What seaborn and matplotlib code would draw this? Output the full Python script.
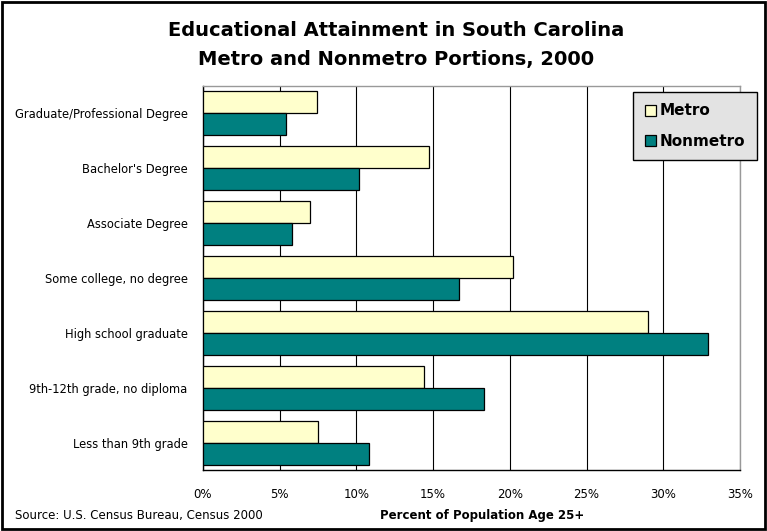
import numpy as np
import pandas as pd
import seaborn as sns
import matplotlib.pyplot as plt
from matplotlib.patches import Rectangle

# data (percent of population age 25+)
categories = ['Graduate/Professional Degree', "Bachelor's Degree", 'Associate Degree',
              'Some college, no degree', 'High school graduate',
              '9th-12th grade, no diploma', 'Less than 9th grade']
metro = [7.4, 14.7, 7.0, 20.2, 29.0, 14.4, 7.5]
nonmetro = [5.4, 10.2, 5.8, 16.7, 32.9, 18.3, 10.8]
series = ['Metro', 'Nonmetro']
colors = ['#FFFFCC', '#008080']
xticks = [0, 5, 10, 15, 20, 25, 30, 35]

df = pd.DataFrame({
    'category': categories * 2,
    'value': metro + nonmetro,
    'series': ['Metro'] * len(categories) + ['Nonmetro'] * len(categories),
})

sns.set_theme(style='white')
plt.rcParams['font.family'] = ['DejaVu Sans']
plt.rcParams.update({'text.color': 'black', 'xtick.color': 'black',
                     'ytick.color': 'black', 'axes.labelcolor': 'black'})

fig = plt.figure(figsize=(7.67, 5.31), dpi=100)
ax = fig.add_axes([203 / 767, 1 - 470 / 531, (740 - 203) / 767, (470 - 86) / 531])

sns.barplot(data=df, y='category', x='value', hue='series', orient='h',
            order=categories, hue_order=series, palette=colors,
            width=0.8, edgecolor='black', linewidth=0.9, saturation=1,
            ax=ax, zorder=3)

ax.set_xlim(0, 35)
ax.set_ylim(len(categories) - 0.5, -0.5)
ax.set_xticks(xticks)
ax.set_xticklabels([f'{t}%' for t in xticks], fontsize=8.5)
ax.xaxis.grid(True, color='black', linewidth=0.8, zorder=0)
ax.yaxis.grid(False)

# y ticks: labels at centers, tick marks between categories
ax.set_yticks(range(len(categories)))
ax.set_yticklabels(categories, fontsize=8.3)
ax.tick_params(axis='y', which='major', length=0, pad=11)
ax.set_yticks(np.arange(-0.5, len(categories), 1), minor=True)
ax.tick_params(axis='y', which='minor', length=5, width=1, color='black', direction='out')
ax.tick_params(axis='x', which='major', length=6, width=1, color='black',
               direction='inout', pad=10)

ax.set_xlabel('')
ax.set_ylabel('')
for side in ['left', 'bottom']:
    ax.spines[side].set_color('black')
    ax.spines[side].set_linewidth(1)
for side in ['top', 'right']:
    ax.spines[side].set_color('#999999')
    ax.spines[side].set_linewidth(1)

leg = ax.legend(loc='upper right', bbox_to_anchor=(757 / 767, 1 - 92 / 531),
                bbox_transform=fig.transFigure, frameon=True, fancybox=False,
                prop={'weight': 'bold', 'size': 11}, handlelength=0.75, handleheight=0.75,
                handletextpad=0.25, labelspacing=1.0, borderpad=0.75, borderaxespad=0)
leg.get_frame().set_facecolor('#E3E3E3')
leg.get_frame().set_edgecolor('black')
leg.get_frame().set_linewidth(1)
leg.get_frame().set_alpha(1)

fig.text(396 / 767, 1 - 31 / 531, 'Educational Attainment in South Carolina',
         ha='center', va='center', fontsize=14, fontweight='bold')
fig.text(396 / 767, 1 - 59 / 531, 'Metro and Nonmetro Portions, 2000',
         ha='center', va='center', fontsize=14, fontweight='bold')
fig.text(482 / 767, 1 - 515 / 531, 'Percent of Population Age 25+',
         ha='center', va='center', fontsize=8.5, fontweight='bold')
fig.text(15 / 767, 1 - 515 / 531, 'Source: U.S. Census Bureau, Census 2000',
         ha='left', va='center', fontsize=8.5)

fig.patches.append(Rectangle((0.002, 0.003), 0.996, 0.994, transform=fig.transFigure,
                             fill=False, edgecolor='black', linewidth=2))

fig.savefig('out.png', dpi=100)
